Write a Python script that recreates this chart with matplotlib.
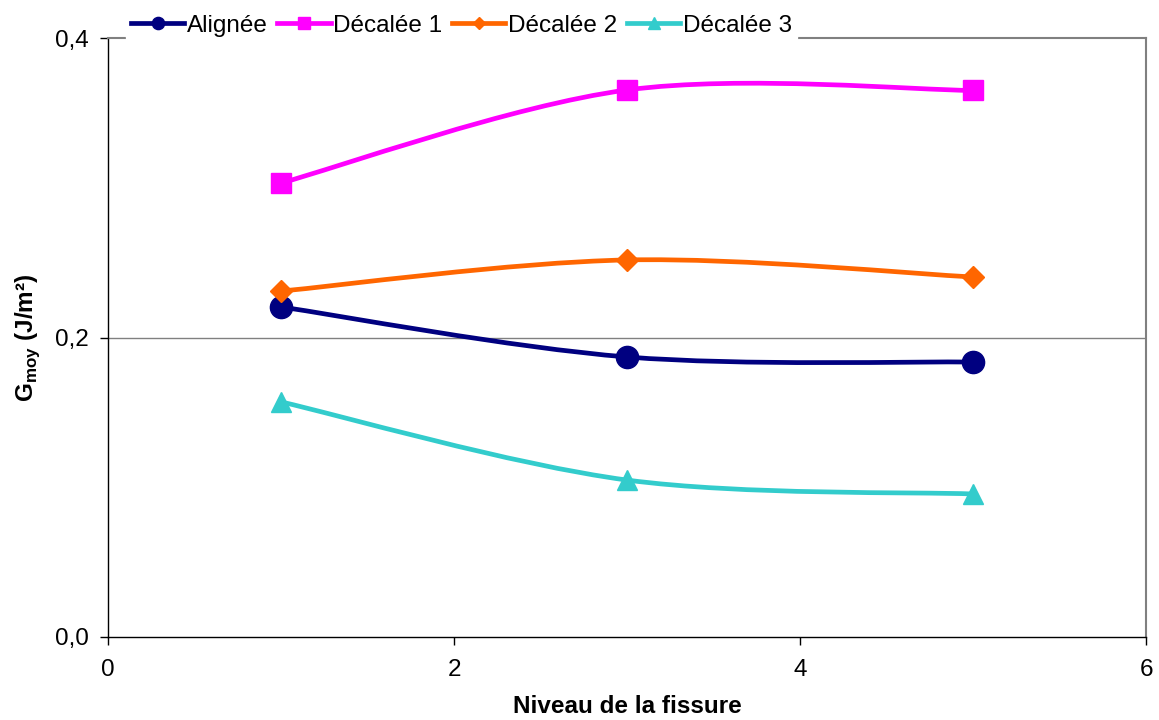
import numpy as np
import matplotlib
matplotlib.use("Agg")
import matplotlib.pyplot as plt
from matplotlib.path import Path
from matplotlib.patches import PathPatch
from matplotlib.lines import Line2D

plt.rcParams["font.family"] = ["Liberation Sans", "DejaVu Sans"]
plt.rcParams["mathtext.fontset"] = "custom"
plt.rcParams["mathtext.bf"] = "Liberation Sans:bold"

niveau = [1, 3, 5]
alignee = [0.2204, 0.1870, 0.1836]
decalee1 = [0.3032, 0.3653, 0.3650]
decalee2 = [0.2310, 0.2518, 0.2404]
decalee3 = [0.1570, 0.1048, 0.0955]

series = [
    ("Alignée", alignee, "#000080", "o", 16),
    ("Décalée 1", decalee1, "#FF00FF", "s", 15),
    ("Décalée 2", decalee2, "#FF6600", "D", 11),
    ("Décalée 3", decalee3, "#33CCCC", "^", 15),
]


def smooth_path(x, y):
    # Excel-style smoothed line: cubic Bezier segments through the points
    pts = np.column_stack([x, y]).astype(float)
    n = len(pts)
    verts = [pts[0]]
    codes = [Path.MOVETO]
    for i in range(n - 1):
        p0 = pts[i - 1] if i > 0 else pts[i]
        p1 = pts[i]
        p2 = pts[i + 1]
        p3 = pts[i + 2] if i + 2 < n else pts[i + 1]
        c1 = p1 + (p2 - p0) / 6.0
        c2 = p2 - (p3 - p1) / 6.0
        verts += [c1, c2, p2]
        codes += [Path.CURVE4] * 3
    return Path(verts, codes)


fig = plt.figure(figsize=(11.59, 7.2), dpi=100)
ax = fig.add_axes([0.0932, 0.1153, 0.8956, 0.8319])

handles = []
for name, vals, color, marker, ms in series:
    patch = PathPatch(smooth_path(niveau, vals), facecolor="none", edgecolor=color,
                      lw=3.4, capstyle="round", joinstyle="round", zorder=3)
    ax.add_patch(patch)
    ax.plot(niveau, vals, linestyle="none", marker=marker, markersize=ms,
            color=color, markeredgecolor=color, zorder=4)
    handles.append(Line2D([0], [0], color=color, lw=3.4, marker=marker,
                          markersize=ms * 0.55, markeredgecolor=color))

ax.set_xlim(0, 6)
ax.set_ylim(0, 0.4)
ax.set_xticks([0, 2, 4, 6])
ax.set_yticks([0.0, 0.2, 0.4])
ax.set_yticklabels(["0,0", "0,2", "0,4"])
ax.tick_params(axis="both", labelsize=17.5, direction="out", length=6, width=1, pad=8)
ax.tick_params(axis="x", pad=10)
ax.axhline(0.2, color="#808080", lw=1, zorder=1)

for side in ["top", "right"]:
    ax.spines[side].set_color("#808080")
    ax.spines[side].set_linewidth(1.5)
for side in ["left", "bottom"]:
    ax.spines[side].set_color("black")
    ax.spines[side].set_linewidth(1)

ax.set_xlabel("Niveau de la fissure", fontsize=17.5, fontweight="bold", labelpad=10)
ax.set_ylabel("G$_{\\mathbf{moy}}$ (J/m²)", fontsize=17.5, fontweight="bold", labelpad=9)

leg = fig.legend(handles, [s[0] for s in series], loc="center", bbox_to_anchor=(0.398, 0.964),
                 ncol=4, fontsize=17.5, frameon=True, handlelength=2.2, handletextpad=0.1,
                 columnspacing=0.4, borderpad=0.2)
leg.get_frame().set_edgecolor("white")
leg.get_frame().set_facecolor("white")
leg.get_frame().set_alpha(1)
leg.set_zorder(10)

plt.savefig("out.png", dpi=100)
